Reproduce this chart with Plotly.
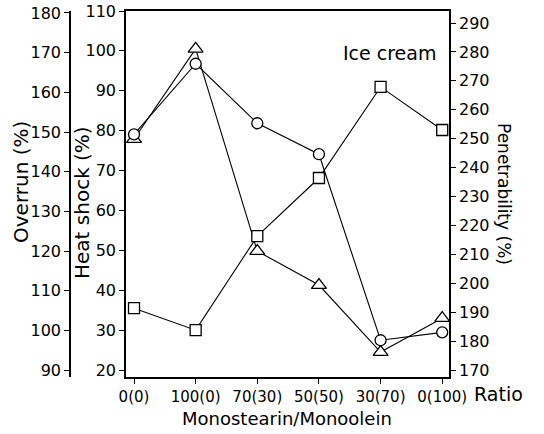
import plotly.graph_objects as go

categories = ["0(0)", "100(0)", "70(30)", "50(50)", "30(70)", "0(100)"]
overrun = [149.4, 167.2, 152.2, 144.4, 97.5, 99.5]          # circles, Overrun (%)
heat_shock = [77.9, 100.5, 49.8, 41.3, 24.5, 33.0]          # triangles, Heat shock (%)
penetrability = [191.4, 183.8, 216.3, 236.4, 267.9, 253.0]  # squares, Penetrability (%)

W, H = 544, 434
FONT = "DejaVu Sans, Verdana, sans-serif"
xi = list(range(len(categories)))

def px_x(p):
    return p / W

def px_y(p):
    return 1 - p / H

fig = go.Figure()
mk = dict(color="white", line=dict(color="black", width=1.3))
fig.add_trace(go.Scatter(x=xi, y=overrun, yaxis="y2", mode="lines+markers",
                         line=dict(color="black", width=1.1),
                         marker=dict(symbol="circle", size=11, **mk)))
fig.add_trace(go.Scatter(x=xi, y=heat_shock, yaxis="y", mode="lines+markers",
                         line=dict(color="black", width=1.1),
                         marker=dict(symbol="triangle-up", size=13, **mk)))
fig.add_trace(go.Scatter(x=xi, y=penetrability, yaxis="y3", mode="lines+markers",
                         line=dict(color="black", width=1.1),
                         marker=dict(symbol="square", size=11, **mk)))

tickfont = dict(family=FONT, size=16, color="black")
axcommon = dict(showgrid=False, zeroline=False, showline=True, linecolor="black",
                linewidth=1.6, ticks="outside", ticklen=5, tickcolor="black",
                tickwidth=1.2, automargin=False, ticklabeloverflow="allow")

fig.update_layout(
    width=W, height=H, showlegend=False,
    margin=dict(l=0, r=0, t=0, b=0, autoexpand=False),
    paper_bgcolor="white", plot_bgcolor="white",
    xaxis=dict(domain=[px_x(126), px_x(449)], range=[-0.13, 5.11],
               tickvals=xi, ticktext=categories, mirror=True,
               tickfont=dict(family=FONT, size=15, color="black"), **axcommon),
    yaxis=dict(domain=[px_y(377), px_y(11)], range=[18.25, 110],
               tickvals=list(range(20, 111, 10)), tickfont=tickfont, **axcommon),
    yaxis2=dict(overlaying="y", anchor="free", position=px_x(70), side="left",
                range=[88.24, 180.5], tickvals=list(range(90, 181, 10)),
                tickfont=tickfont, **axcommon),
    yaxis3=dict(overlaying="y", anchor="x", side="right",
                range=[167.6, 294.15], tickvals=list(range(170, 291, 10)),
                tickfont=tickfont, **axcommon),
)

def ann(text, x, y, size, angle=0):
    fig.add_annotation(text=text, x=px_x(x), y=px_y(y), xref="paper", yref="paper",
                       xanchor="center", yanchor="middle",
                       textangle=angle, showarrow=False,
                       font=dict(family=FONT, size=size, color="black"))

ann("Overrun (%)", 21, 182, 20, -90)
ann("Heat shock (%)", 82, 203, 20, -90)
ann("Penetrability (%)", 504, 194, 17, 90)
ann("Monostearin/Monoolein", 287, 418, 18)
ann("Ratio", 498, 394, 19)
ann("Ice cream", 389, 53, 19)

fig.write_html("out.html", config={"displayModeBar": False},
               post_script="document.body.style.margin='0';document.body.style.padding='0';document.body.style.overflow='hidden';")
